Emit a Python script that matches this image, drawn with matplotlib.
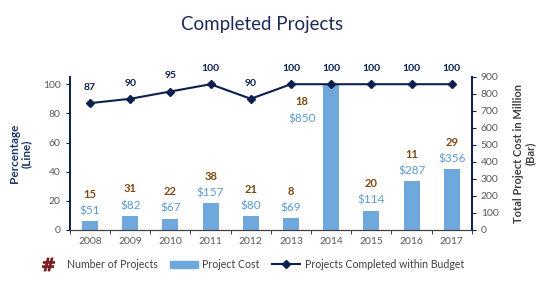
import numpy as np
import matplotlib.pyplot as plt
from matplotlib.lines import Line2D
from matplotlib.patches import Patch

plt.rcParams['font.family'] = ['Lato', 'DejaVu Sans']

years = ['2008', '2009', '2010', '2011', '2012', '2013', '2014', '2015', '2016', '2017']
pct_in_budget = [87, 90, 95, 100, 90, 100, 100, 100, 100, 100]
cost = [51, 82, 67, 157, 80, 69, 850, 114, 287, 356]
num_projects = [15, 31, 22, 38, 21, 8, 18, 20, 11, 29]

navy = '#0d1f4f'
bar_c = '#6fa8dc'
cost_c = '#5b9bd5'
count_c = '#7a4a12'
grey = '#595959'

x = np.arange(len(years))

fig = plt.figure(figsize=(5.5, 2.86), dpi=100)
ax = fig.add_axes([0.127, 0.196, 0.731, 0.535])
ax2 = ax.twinx()

# bars on right axis
ax2.bar(x, cost, width=0.4, color=bar_c, zorder=1)
ax2.set_ylim(0, 900)
ax2.set_yticks(range(0, 901, 100))

# line on left axis (drawn above bars)
ax.set_zorder(ax2.get_zorder() + 1)
ax.patch.set_visible(False)
ax.plot(x, pct_in_budget, color=navy, lw=1.5, marker='D', ms=4.5, zorder=3)
ax.set_ylim(0, 105)
ax.set_yticks(range(0, 101, 20))
ax.set_xlim(-0.5, len(years) - 0.5)
ax.set_xticks(x)
ax.set_xticklabels(years)
ax.set_xticks(np.arange(-0.5, len(years)), minor=True)
ax.tick_params(axis='x', which='major', length=0, labelsize=7.5, labelcolor=grey, pad=5)
ax.tick_params(axis='x', which='minor', length=3, color=navy, direction='out')
ax.tick_params(axis='y', labelsize=7.5, labelcolor=grey, length=3, color=navy)
ax2.tick_params(axis='y', labelsize=7.5, labelcolor=grey, length=3, color=navy)

for a in (ax, ax2):
    a.spines['top'].set_visible(False)
    a.spines['left'].set_color(navy)
    a.spines['right'].set_color(navy)
    a.spines['bottom'].set_color('#404040')
    a.spines['left'].set_linewidth(1.3)
    a.spines['right'].set_linewidth(1.3)

# labels on the line
for xi, p in zip(x, pct_in_budget):
    ax.annotate(str(p), (xi, p), xytext=(0, 8), textcoords='offset points',
                ha='center', va='bottom', fontsize=7.5, fontweight='bold', color=navy)

# cost and count labels (tall bar gets its labels to the left, below the line)
for xi, c, n in zip(x, cost, num_projects):
    if c > 700:
        off_c, off_n = (-21, -24.5), (-21, -11.5)
    else:
        off_c, off_n = (0, 7.5), (0, 19.5)
    ax2.annotate('$' + str(c), (xi, c), xytext=off_c, textcoords='offset points',
                 ha='center', va='center', fontsize=8.5, color=cost_c, zorder=5)
    ax2.annotate(str(n), (xi, c), xytext=off_n, textcoords='offset points',
                 ha='center', va='center', fontsize=8, fontweight='bold', color=count_c, zorder=5)

ax.set_ylabel('Percentage\n(Line)', fontsize=8.5, fontweight='bold', color='#1f3864',
              labelpad=8, linespacing=1.1)
ax2.set_ylabel('Total Project Cost in Million\n(Bar)', fontsize=8, fontweight='bold',
               color='#404040', labelpad=10, linespacing=1.1)

fig.text(0.476, 0.915, 'Completed Projects', ha='center', va='center', fontsize=13.5,
         color='#1f2a5a')

handles = [
    Line2D([], [], ls='none', marker=r'$\#$', ms=9, color='#7b1f1f', mec='#7b1f1f'),
    Patch(color=bar_c),
    Line2D([], [], color=navy, lw=1.5, marker='D', ms=4),
]
labels = ['Number of Projects', 'Project Cost', 'Projects Completed within Budget']
fig.legend(handles, labels, loc='center', bbox_to_anchor=(0.453, 0.075), ncol=3,
           frameon=False, fontsize=7.6, handlelength=2.65, handletextpad=0.4,
           columnspacing=1.2, labelcolor='#404040')

fig.savefig('out.png', dpi=100)
